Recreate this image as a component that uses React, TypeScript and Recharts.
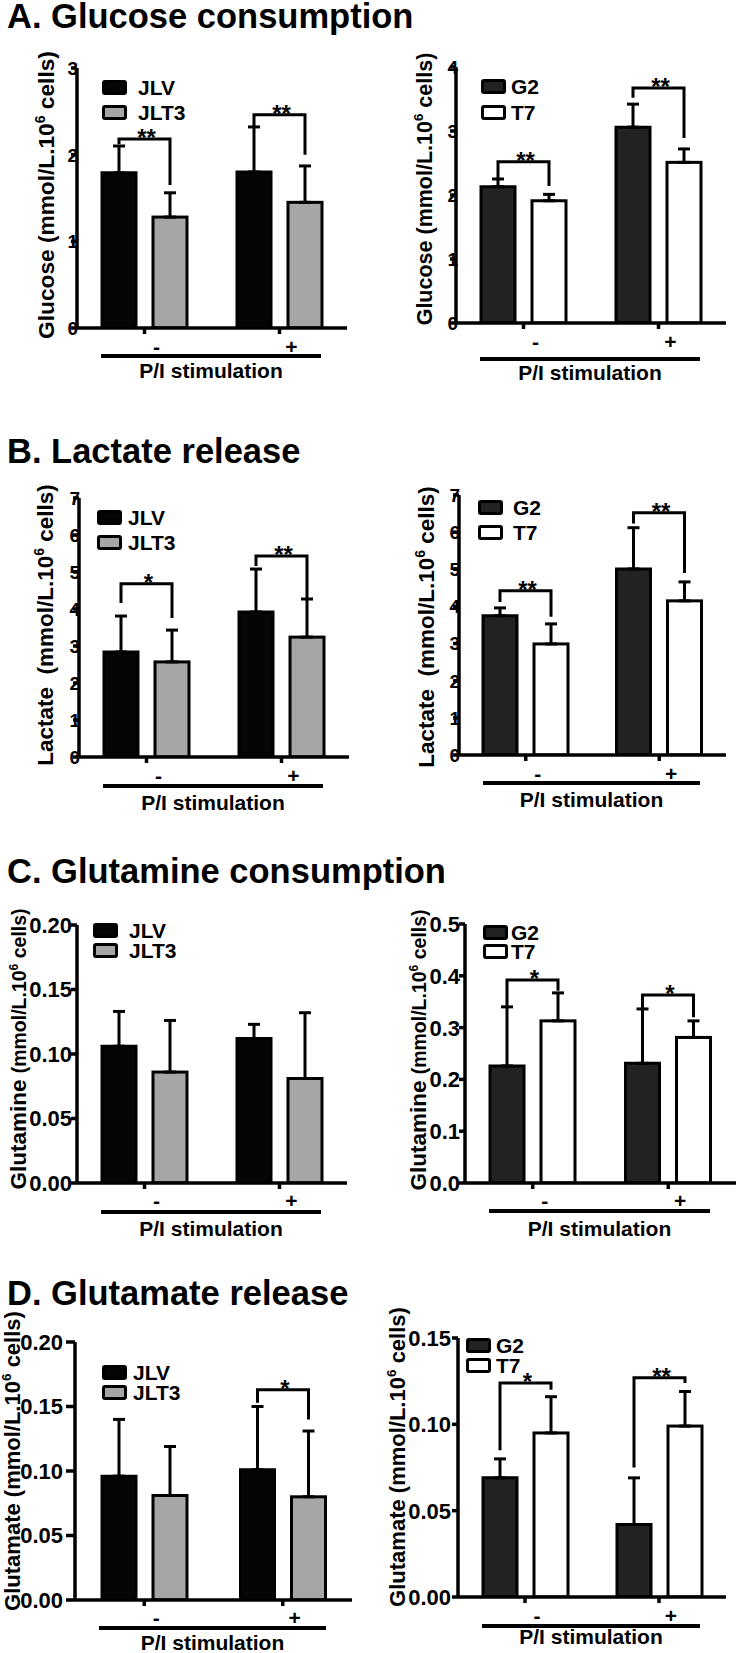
import React from 'react';
import { BarChart, Bar, XAxis, YAxis, ErrorBar, Legend } from 'recharts';

const FONT = '"Liberation Sans", Arial, Helvetica, sans-serif';

const categories = ['-', '+'];
const jurkatNames = ['JLV', 'JLT3'];
const jurkatFills = ['#050505', '#a6a6a6'];
const cd4Names = ['G2', 'T7'];
const cd4Fills = ['#222222', '#ffffff'];

const panelTitles = ['A. Glucose consumption', 'B. Lactate release', 'C. Glutamine consumption', 'D. Glutamate release'];
const titleBaselines = [28, 463, 883, 1305];

// A. Glucose consumption
const glucoseJLV = [1.79, 1.8];
const glucoseJLVSd = [0.31, 0.52];
const glucoseJLT3 = [1.28, 1.45];
const glucoseJLT3Sd = [0.28, 0.42];
const glucoseJSig = ['**', '**'];
const glucoseJBrackets = [[2.18, 2.12, 1.65], [2.46, 2.32, 2.0]]; // [bracket, left end, right end]
const glucoseG2 = [2.13, 3.06];
const glucoseG2Sd = [0.12, 0.36];
const glucoseT7 = [1.91, 2.51];
const glucoseT7Sd = [0.1, 0.21];
const glucoseGSig = ['**', '**'];
const glucoseGBrackets = [[2.52, 2.25, 2.14], [3.67, 3.52, 2.89]];
const glucoseTicksJ = [0, 1, 2, 3];
const glucoseTicksG = [0, 1, 2, 3, 4];

// B. Lactate release
const lactateJLV = [2.84, 3.92];
const lactateJLVSd = [0.97, 1.16];
const lactateJLT3 = [2.57, 3.24];
const lactateJLT3Sd = [0.86, 1.03];
const lactateJSig = ['*', '**'];
const lactateJBrackets = [[4.68, 4.16, 3.76], [5.43, 5.16, 4.27]];
const lactateG2 = [3.75, 5.01];
const lactateG2Sd = [0.21, 1.11];
const lactateT7 = [2.99, 4.15];
const lactateT7Sd = [0.54, 0.51];
const lactateGSig = ['**', '**'];
const lactateGBrackets = [[4.42, 4.12, 3.72], [6.52, 6.23, 4.9]];
const lactateTicks = [0, 1, 2, 3, 4, 5, 6, 7];

// C. Glutamine consumption
const glutamineJLV = [0.106, 0.112];
const glutamineJLVSd = [0.027, 0.011];
const glutamineJLT3 = [0.086, 0.081];
const glutamineJLT3Sd = [0.04, 0.051];
const glutamineJSig = ['', ''];
const glutamineJBrackets = [[0, 0, 0], [0, 0, 0]];
const glutamineG2 = [0.226, 0.231];
const glutamineG2Sd = [0.114, 0.105];
const glutamineT7 = [0.313, 0.281];
const glutamineT7Sd = [0.054, 0.032];
const glutamineGSig = ['*', '*'];
const glutamineGBrackets = [[0.392, 0.342, 0.371], [0.363, 0.338, 0.32]];
const glutamineTicksJ = [0, 0.05, 0.1, 0.15, 0.2];
const glutamineTicksG = [0, 0.1, 0.2, 0.3, 0.4, 0.5];

// D. Glutamate release
const glutamateJLV = [0.096, 0.101];
const glutamateJLVSd = [0.044, 0.049];
const glutamateJLT3 = [0.081, 0.08];
const glutamateJLT3Sd = [0.038, 0.051];
const glutamateJSig = ['', '*'];
const glutamateJBrackets = [[0, 0, 0], [0.163, 0.153, 0.14]];
const glutamateG2 = [0.069, 0.042];
const glutamateG2Sd = [0.011, 0.027];
const glutamateT7 = [0.095, 0.099];
const glutamateT7Sd = [0.021, 0.02];
const glutamateGSig = ['*', '**'];
const glutamateGBrackets = [[0.124, 0.085, 0.12], [0.127, 0.075, 0.124]];
const glutamateTicksJ = [0, 0.05, 0.1, 0.15, 0.2];
const glutamateTicksG = [0, 0.05, 0.1, 0.15];

type Layout = {
  left: number; top: number; height: number;
  axisX: number; plotTop: number; zero: number; plotRight: number;
  yTickSize: number; yTickDx: number; yTickFont: number;
  labelX: number; labelY: number; labelMain: number; labelRest: number;
  legendX: number; legendY: number; legendTextDx: number; legendGap: number;
  tickBase: number; underline: number; caption: number;
};

type PanelProps = {
  L: Layout;
  names: string[];
  fills: string[];
  a: number[]; aSd: number[];
  b: number[]; bSd: number[];
  sig: string[];
  brackets: number[][];
  yTicks: number[];
  decimals: number;
  yTitle: string;
};

const W = 373;
const BAR = 34;
const GAP = 17;

function Panel({ L, names, fills, a, aSd, b, bSd, sig, brackets, yTicks, decimals, yTitle }: PanelProps) {
  const rows = categories.map((cat, i) => ({
    cat,
    a: a[i],
    aErr: [0, aSd[i]],
    b: b[i],
    bErr: [0, bSd[i]],
  }));
  const axisXL = L.axisX - L.left;
  const zeroL = L.zero - L.top;
  const plotTopL = L.plotTop - L.top;
  const plotRightL = L.plotRight - L.left;

  // second bar draws itself plus the significance bracket over its group
  const bracketShape = (p: any) => {
    const { x, y, width, height, index } = p;
    const v = p.payload && p.payload.b != null ? p.payload.b : Array.isArray(p.value) ? p.value[1] : p.value;
    const unit = height / v;
    const base = y + height;
    const toY = (val: number) => base - val * unit;
    const rightX = x + width / 2;
    const leftX = rightX - width - GAP;
    const label = sig[index];
    const br = brackets[index];
    return (
      <g>
        <rect x={x} y={y} width={width} height={height} fill={fills[1]} stroke="#000" strokeWidth={3} />
        {label ? (
          <g>
            <path
              d={`M${leftX},${toY(br[1])} V${toY(br[0])} H${rightX} V${toY(br[2])}`}
              fill="none"
              stroke="#000"
              strokeWidth={3}
            />
            <text
              x={(leftX + rightX) / 2 + 2}
              y={toY(br[0]) + 7}
              textAnchor="middle"
              fontFamily={FONT}
              fontWeight="bold"
              fontSize={24}
              fill="#000"
            >
              {label}
            </text>
          </g>
        ) : null}
      </g>
    );
  };

  const yLabel = () => {
    const cx = L.labelX;
    const cy = L.labelY;
    return (
      <text
        x={cx}
        y={cy + L.labelMain * 0.35}
        transform={`rotate(-90 ${cx} ${cy})`}
        textAnchor="middle"
        fontFamily={FONT}
        fontWeight="bold"
        fill="#000"
        style={{ whiteSpace: 'pre' }}
      >
        <tspan fontSize={L.labelMain}>{yTitle}</tspan>
        <tspan fontSize={L.labelRest}>(mmol/L.10</tspan>
        <tspan fontSize={L.labelRest * 0.62} dy={-L.labelRest * 0.38}>6</tspan>
        <tspan fontSize={L.labelRest} dy={L.labelRest * 0.38}> cells)</tspan>
      </text>
    );
  };

  const xCaption = () => {
    const x1 = axisXL + 24;
    const x2 = plotRightL - 26;
    return (
      <g>
        <line x1={x1} x2={x2} y1={zeroL + L.underline} y2={zeroL + L.underline} stroke="#000" strokeWidth={4} />
        <text
          x={(x1 + x2) / 2}
          y={zeroL + L.caption}
          textAnchor="middle"
          fontFamily={FONT}
          fontWeight="bold"
          fontSize={21}
          fill="#000"
        >
          P/I stimulation
        </text>
      </g>
    );
  };

  const legend = () => (
    <div style={{ position: 'relative', width: 120, height: 2 * L.legendGap }}>
      {names.map((n, i) => (
        <div key={n} style={{ position: 'absolute', left: 0, top: i * L.legendGap, height: 15, width: 120 }}>
          <div
            style={{
              position: 'absolute',
              left: 0,
              top: 0,
              width: 25,
              height: 15,
              boxSizing: 'border-box',
              border: '3px solid #000',
              borderRadius: 3,
              background: fills[i],
            }}
          />
          <div
            style={{
              position: 'absolute',
              left: L.legendTextDx,
              top: 0,
              lineHeight: '15px',
              fontSize: 21,
              fontWeight: 'bold',
              fontFamily: FONT,
              color: '#000',
              whiteSpace: 'nowrap',
            }}
          >
            {n}
          </div>
        </div>
      ))}
    </div>
  );

  const axisStyle = { stroke: '#000', strokeWidth: 3.5 };

  return (
    <div style={{ position: 'absolute', left: L.left, top: L.top }}>
      <BarChart
        width={W}
        height={L.height}
        data={rows}
        margin={{ top: plotTopL, right: W - plotRightL, bottom: 0, left: 0 }}
        barSize={BAR}
        barGap={GAP}
      >
        <XAxis
          dataKey="cat"
          height={L.height - zeroL}
          axisLine={axisStyle}
          tickLine={axisStyle}
          tickSize={6}
          tickMargin={0}
          interval={0}
          tick={(p: any) => (
            <text
              x={p.x + 12}
              y={p.y - 6 + L.tickBase}
              textAnchor="middle"
              fontFamily={FONT}
              fontWeight="bold"
              fontSize={21}
              fill="#000"
            >
              {p.payload.value}
            </text>
          )}
          label={xCaption}
        />
        <YAxis
          type="number"
          width={axisXL}
          domain={[0, yTicks[yTicks.length - 1]]}
          ticks={yTicks}
          interval={0}
          allowDataOverflow
          axisLine={axisStyle}
          tickLine={axisStyle}
          tickSize={L.yTickSize}
          tickMargin={0}
          tick={(p: any) => (
            <text
              x={p.x + L.yTickDx}
              y={p.y}
              dy="0.36em"
              textAnchor="end"
              fontFamily={FONT}
              fontWeight="bold"
              fontSize={L.yTickFont}
              fill="#000"
            >
              {Number(p.payload.value).toFixed(decimals)}
            </text>
          )}
          label={yLabel}
        />
        <Legend
          layout="vertical"
          align="center"
          verticalAlign="middle"
          wrapperStyle={{ left: L.legendX, top: L.legendY, width: 120, height: 2 * L.legendGap, margin: 0, padding: 0 }}
          content={legend}
        />
        <Bar dataKey="a" name={names[0]} fill={fills[0]} stroke="#000" strokeWidth={3} isAnimationActive={false}>
          <ErrorBar dataKey="aErr" width={6} strokeWidth={3} stroke="#000" direction="y" />
        </Bar>
        <Bar dataKey="b" name={names[1]} fill={fills[1]} stroke="#000" strokeWidth={3} isAnimationActive={false} shape={bracketShape}>
          <ErrorBar dataKey="bErr" width={6} strokeWidth={3} stroke="#000" direction="y" />
        </Bar>
      </BarChart>
    </div>
  );
}

const layoutAL: Layout = { left: 0, top: 40, height: 355, axisX: 77, plotTop: 68, zero: 328, plotRight: 347, yTickSize: 6, yTickDx: 7, yTickFont: 19, labelX: 46, labelY: 155, labelMain: 22.7, labelRest: 22.7, legendX: 102, legendY: 40, legendTextDx: 36, legendGap: 25, tickBase: 26, underline: 28, caption: 50 };
const layoutAR: Layout = { left: 373, top: 40, height: 355, axisX: 456, plotTop: 67, zero: 323, plotRight: 726, yTickSize: 6, yTickDx: 8, yTickFont: 19, labelX: 51, labelY: 149, labelMain: 21.5, labelRest: 21.5, legendX: 108, legendY: 39, legendTextDx: 30, legendGap: 26, tickBase: 26, underline: 36, caption: 57 };
const layoutBL: Layout = { left: 0, top: 470, height: 350, axisX: 79, plotTop: 498, zero: 757, plotRight: 349, yTickSize: 6, yTickDx: 7, yTickFont: 19, labelX: 45, labelY: 155, labelMain: 22.5, labelRest: 22.5, legendX: 97, legendY: 40, legendTextDx: 31, legendGap: 25, tickBase: 26, underline: 29, caption: 53 };
const layoutBR: Layout = { left: 373, top: 470, height: 350, axisX: 459, plotTop: 495, zero: 755, plotRight: 726, yTickSize: 6, yTickDx: 7, yTickFont: 19, labelX: 53, labelY: 157, labelMain: 22.5, labelRest: 22.5, legendX: 105, legendY: 30, legendTextDx: 35, legendGap: 25, tickBase: 26, underline: 28, caption: 52 };
const layoutCL: Layout = { left: 0, top: 895, height: 350, axisX: 77, plotTop: 925, zero: 1183, plotRight: 347, yTickSize: 6, yTickDx: 1, yTickFont: 22, labelX: 18, labelY: 154, labelMain: 22.5, labelRest: 19.5, legendX: 93, legendY: 28, legendTextDx: 36, legendGap: 20, tickBase: 25, underline: 29, caption: 53 };
const layoutCR: Layout = { left: 373, top: 895, height: 350, axisX: 465, plotTop: 924, zero: 1183, plotRight: 736, yTickSize: 6, yTickDx: 1, yTickFont: 22, labelX: 45, labelY: 155, labelMain: 22.5, labelRest: 19.5, legendX: 110, legendY: 30, legendTextDx: 28, legendGap: 19, tickBase: 25, underline: 28, caption: 53 };
const layoutDL: Layout = { left: 0, top: 1300, height: 353, axisX: 75, plotTop: 1342, zero: 1600, plotRight: 352, yTickSize: 9, yTickDx: -3, yTickFont: 22, labelX: 12, labelY: 161, labelMain: 22, labelRest: 22, legendX: 102, legendY: 65, legendTextDx: 31, legendGap: 20, tickBase: 25, underline: 28, caption: 50 };
const layoutDR: Layout = { left: 373, top: 1300, height: 353, axisX: 458, plotTop: 1338, zero: 1597, plotRight: 726, yTickSize: 6, yTickDx: -1, yTickFont: 22, labelX: 24, labelY: 157, labelMain: 22, labelRest: 22, legendX: 93, legendY: 38, legendTextDx: 30, legendGap: 20, tickBase: 26, underline: 29, caption: 47 };

export default function App() {
  return (
    <div style={{ position: 'absolute', left: 0, top: 0, width: 746, height: 1653, background: '#fff', overflow: 'hidden' }}>
      {panelTitles.map((t, i) => (
        <div
          key={t}
          style={{
            position: 'absolute',
            left: 7,
            top: titleBaselines[i] - 26.8,
            fontFamily: FONT,
            fontWeight: 'bold',
            fontSize: 34.5,
            lineHeight: '30px',
            whiteSpace: 'nowrap',
            color: '#000',
          }}
        >
          {t}
        </div>
      ))}
      <Panel L={layoutAL} names={jurkatNames} fills={jurkatFills} a={glucoseJLV} aSd={glucoseJLVSd} b={glucoseJLT3} bSd={glucoseJLT3Sd} sig={glucoseJSig} brackets={glucoseJBrackets} yTicks={glucoseTicksJ} decimals={0} yTitle="Glucose " />
      <Panel L={layoutAR} names={cd4Names} fills={cd4Fills} a={glucoseG2} aSd={glucoseG2Sd} b={glucoseT7} bSd={glucoseT7Sd} sig={glucoseGSig} brackets={glucoseGBrackets} yTicks={glucoseTicksG} decimals={0} yTitle="Glucose " />
      <Panel L={layoutBL} names={jurkatNames} fills={jurkatFills} a={lactateJLV} aSd={lactateJLVSd} b={lactateJLT3} bSd={lactateJLT3Sd} sig={lactateJSig} brackets={lactateJBrackets} yTicks={lactateTicks} decimals={0} yTitle="Lactate  " />
      <Panel L={layoutBR} names={cd4Names} fills={cd4Fills} a={lactateG2} aSd={lactateG2Sd} b={lactateT7} bSd={lactateT7Sd} sig={lactateGSig} brackets={lactateGBrackets} yTicks={lactateTicks} decimals={0} yTitle="Lactate  " />
      <Panel L={layoutCL} names={jurkatNames} fills={jurkatFills} a={glutamineJLV} aSd={glutamineJLVSd} b={glutamineJLT3} bSd={glutamineJLT3Sd} sig={glutamineJSig} brackets={glutamineJBrackets} yTicks={glutamineTicksJ} decimals={2} yTitle="Glutamine " />
      <Panel L={layoutCR} names={cd4Names} fills={cd4Fills} a={glutamineG2} aSd={glutamineG2Sd} b={glutamineT7} bSd={glutamineT7Sd} sig={glutamineGSig} brackets={glutamineGBrackets} yTicks={glutamineTicksG} decimals={1} yTitle="Glutamine " />
      <Panel L={layoutDL} names={jurkatNames} fills={jurkatFills} a={glutamateJLV} aSd={glutamateJLVSd} b={glutamateJLT3} bSd={glutamateJLT3Sd} sig={glutamateJSig} brackets={glutamateJBrackets} yTicks={glutamateTicksJ} decimals={2} yTitle="Glutamate " />
      <Panel L={layoutDR} names={cd4Names} fills={cd4Fills} a={glutamateG2} aSd={glutamateG2Sd} b={glutamateT7} bSd={glutamateT7Sd} sig={glutamateGSig} brackets={glutamateGBrackets} yTicks={glutamateTicksG} decimals={2} yTitle="Glutamate " />
    </div>
  );
}
